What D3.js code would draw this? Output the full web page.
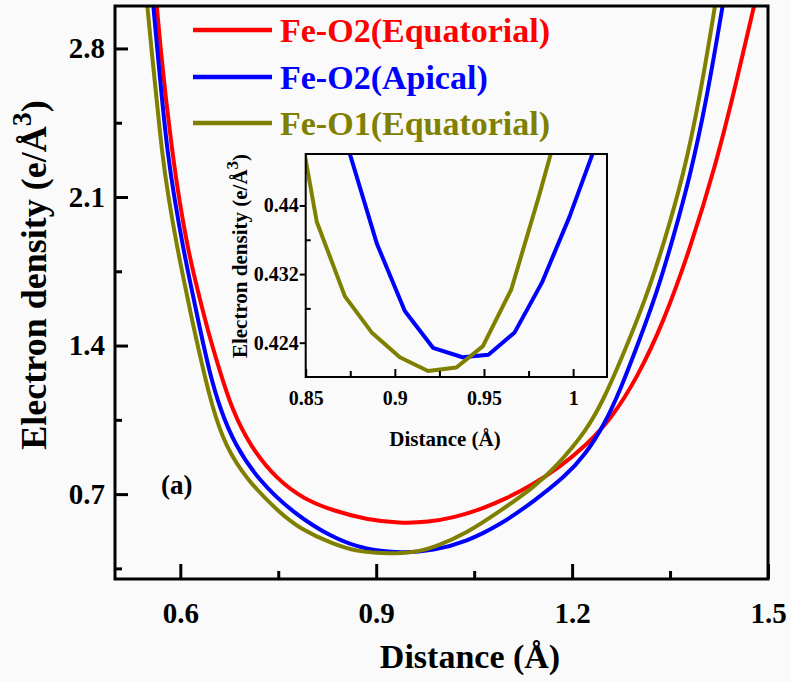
<!DOCTYPE html>
<html><head><meta charset="utf-8">
<script src="https://cdn.jsdelivr.net/npm/d3@7"></script>
<style>
html,body{margin:0;padding:0;background:#fafafa;}
svg{display:block;}
text{font-family:"Liberation Serif","Times New Roman",serif;font-weight:bold;fill:#000;}
</style></head><body>
<svg id="chart" width="791" height="682"></svg>
<script>
// ---------- data ----------
const seriesNames = ["Fe-O2(Equatorial)", "Fe-O2(Apical)", "Fe-O1(Equatorial)"];
const seriesColors = ["#ff0000", "#0000ff", "#808000"];

// main panel: distance (Å) and electron density (e/Å^3)
const redX = [0.564,0.570,0.578,0.587,0.598,0.612,0.625,0.643,0.660,0.679,0.707,0.7476,0.790,0.834,0.885,0.936,0.980,1.020,1.060,1.100,1.140,1.180,1.220,1.260,1.300,1.340,1.380,1.420,1.450,1.4786];
const redY = [3.00,2.79,2.56,2.33,2.09,1.85,1.68,1.46,1.285,1.10,0.925,0.77,0.675,0.622,0.580,0.5626,0.568,0.590,0.628,0.680,0.745,0.825,0.925,1.055,1.25,1.51,1.85,2.25,2.62,3.00];

const blueX = [0.5587,0.5648,0.572,0.580,0.591,0.605,0.615,0.630,0.645,0.661,0.684,0.7195,0.773,0.834,0.885,0.938,0.9875,1.0386,1.0896,1.1406,1.190,1.220,1.250,1.275,1.300,1.330,1.355,1.380,1.405,1.4305];
const blueY = [3.00,2.795,2.56,2.32,2.09,1.85,1.70,1.48,1.27,1.10,0.93,0.767,0.61,0.492,0.437,0.4223,0.433,0.476,0.555,0.664,0.785,0.885,1.03,1.20,1.40,1.65,1.91,2.19,2.54,3.00];

const oliveX = [0.5495,0.556,0.5638,0.5715,0.582,0.596,0.606,0.620,0.634,0.649,0.6685,0.7016,0.7527,0.7833,0.834,0.872,0.903,0.919,0.936,0.9653,0.9875,1.0386,1.0896,1.1406,1.176,1.2223,1.2478,1.2733,1.3142,1.3423,1.3703,1.3958,1.4188];
const oliveY = [3.00,2.79,2.56,2.32,2.09,1.85,1.70,1.49,1.30,1.11,0.93,0.767,0.61,0.537,0.463,0.4294,0.4223,0.4207,0.421,0.4302,0.447,0.5155,0.62,0.73,0.83,1.00,1.144,1.32,1.63,1.90,2.20,2.57,3.00];

// inset (zoom near the minimum)
const insetBlueX = [0.8745,0.890,0.9056,0.9214,0.938,0.9525,0.9672,0.9825,0.998,1.0135];
const insetBlueY = [0.4462,0.4355,0.4277,0.4234,0.4223,0.4226,0.4252,0.4310,0.4387,0.4475];
const insetOliveX = [0.8404,0.8562,0.872,0.887,0.9028,0.9186,0.9345,0.9494,0.9653,0.981,0.9968];
const insetOliveY = [0.4565,0.4381,0.4294,0.4252,0.4223,0.4207,0.4211,0.4236,0.4302,0.4412,0.4530];

// ticks
const xMajor = [0.6, 0.9, 1.2, 1.5];
const xMinor = [0.75, 1.05, 1.35];
const yMajor = [0.7, 1.4, 2.1, 2.8];
const yMinor = [0.35, 1.05, 1.75, 2.45];
const insetXMajor = [0.85, 0.9, 0.95, 1.0];
const insetXMinor = [0.875, 0.925, 0.975];
const insetYMajor = [0.424, 0.432, 0.44];
const insetYMinor = [0.428, 0.436];
const insetXLabels = ["0.85", "0.9", "0.95", "1"];

// ---------- drawing ----------
const svg = d3.select("#chart");
const L = 115, R = 768, T = 6, B = 579;
const x = d3.scaleLinear().domain([0.5, 1.5]).range([L, R]);
const y = d3.scaleLinear().domain([0.3, 3.0]).range([B, T]);

svg.append("defs").append("clipPath").attr("id", "clipMain")
  .append("rect").attr("x", L).attr("y", T).attr("width", R - L).attr("height", B - T);

const toPts = (xs, ys) => xs.map((v, i) => [v, ys[i]]);
const mainSeries = [toPts(redX, redY), toPts(blueX, blueY), toPts(oliveX, oliveY)];

const line = d3.line().x(d => x(d[0])).y(d => y(d[1])).curve(d3.curveBasis);
const gCurves = svg.append("g").attr("clip-path", "url(#clipMain)");
mainSeries.forEach((s, i) => {
  gCurves.append("path").datum(s).attr("d", line)
    .attr("fill", "none").attr("stroke", seriesColors[i]).attr("stroke-width", 4);
});

// axes
function styleAxis(g) {
  g.select(".domain").remove();
  g.selectAll(".tick line").attr("stroke", "#000").attr("stroke-width", 3);
  g.selectAll("text").style("font-family", '"Liberation Serif", serif').style("font-weight", "bold").attr("fill", "#000");
}
svg.append("g").attr("transform", `translate(0,${B})`)
  .call(d3.axisBottom(x).tickValues(xMajor).tickSize(-15).tickPadding(23).tickFormat(d3.format(".1f")))
  .call(styleAxis).selectAll("text").attr("font-size", 29);
svg.append("g").attr("transform", `translate(0,${B})`)
  .call(d3.axisBottom(x).tickValues(xMinor).tickSize(-8).tickFormat(""))
  .call(styleAxis);
svg.append("g").attr("transform", `translate(${L},0)`)
  .call(d3.axisLeft(y).tickValues(yMajor).tickSize(-13).tickPadding(10).tickFormat(d3.format(".1f")))
  .call(styleAxis).selectAll("text").attr("font-size", 29);
svg.append("g").attr("transform", `translate(${L},0)`)
  .call(d3.axisLeft(y).tickValues(yMinor).tickSize(-7).tickFormat(""))
  .call(styleAxis);

svg.append("rect").attr("x", L).attr("y", T).attr("width", R - L).attr("height", B - T)
  .attr("fill", "none").attr("stroke", "#000").attr("stroke-width", 3);

// axis titles
svg.append("text").attr("x", 470).attr("y", 668).attr("text-anchor", "middle")
  .attr("font-size", 34).text("Distance (Å)");
const yt = svg.append("text").attr("transform", "translate(46,275) rotate(-90)")
  .attr("text-anchor", "middle").attr("font-size", 36);
yt.append("tspan").text("Electron density (e/Å");
yt.append("tspan").attr("baseline-shift", "super").attr("font-size", 28).text("3");
yt.append("tspan").text(")");

svg.append("text").attr("x", 161).attr("y", 494).attr("font-size", 27).text("(a)");

// legend
const legY = [30, 77, 123];
seriesNames.forEach((name, i) => {
  svg.append("line").attr("x1", 193).attr("x2", 272).attr("y1", legY[i]).attr("y2", legY[i])
    .attr("stroke", seriesColors[i]).attr("stroke-width", 4.5);
  svg.append("text").attr("x", 280).attr("y", legY[i] + 12).attr("font-size", 34)
    .style("fill", seriesColors[i]).text(name);
});

// ---------- inset ----------
const iL = 305.7, iR = 607, iT = 154, iB = 377;
const ix = d3.scaleLinear().domain([0.85, 1.019]).range([iL, iR]);
const iy = d3.scaleLinear().domain([0.42, 0.446]).range([iB, iT]);

svg.append("rect").attr("x", iL).attr("y", iT).attr("width", iR - iL).attr("height", iB - iT)
  .attr("fill", "#fafafa");
svg.select("defs").append("clipPath").attr("id", "clipInset")
  .append("rect").attr("x", iL).attr("y", iT).attr("width", iR - iL).attr("height", iB - iT);

const iline = d3.line().x(d => ix(d[0])).y(d => iy(d[1]));
const gInset = svg.append("g").attr("clip-path", "url(#clipInset)");
[[toPts(insetBlueX, insetBlueY), seriesColors[1]], [toPts(insetOliveX, insetOliveY), seriesColors[2]]]
  .forEach(([s, c]) => {
    gInset.append("path").datum(s).attr("d", iline)
      .attr("fill", "none").attr("stroke", c).attr("stroke-width", 4).attr("stroke-linejoin", "round");
  });

function styleInset(g) {
  g.select(".domain").remove();
  g.selectAll(".tick line").attr("stroke", "#000").attr("stroke-width", 2);
  g.selectAll("text").style("font-family", '"Liberation Serif", serif').style("font-weight", "bold").attr("fill", "#000");
}
svg.append("g").attr("transform", `translate(0,${iB})`)
  .call(d3.axisBottom(ix).tickValues(insetXMajor).tickSize(-8).tickPadding(14)
    .tickFormat((d, i) => insetXLabels[i]))
  .call(styleInset).selectAll("text").attr("font-size", 20);
svg.append("g").attr("transform", `translate(0,${iB})`)
  .call(d3.axisBottom(ix).tickValues(insetXMinor).tickSize(-6).tickFormat(""))
  .call(styleInset);
svg.append("g").attr("transform", `translate(${iL},0)`)
  .call(d3.axisLeft(iy).tickValues(insetYMajor).tickSize(6).tickPadding(1).tickFormat(d => String(+d.toFixed(3))))
  .call(styleInset).selectAll("text").attr("font-size", 20);
svg.append("g").attr("transform", `translate(${iL},0)`)
  .call(d3.axisLeft(iy).tickValues(insetYMinor).tickSize(-5).tickFormat(""))
  .call(styleInset);

svg.append("rect").attr("x", iL).attr("y", iT).attr("width", iR - iL).attr("height", iB - iT)
  .attr("fill", "none").attr("stroke", "#000").attr("stroke-width", 2);

svg.append("text").attr("x", 445).attr("y", 446).attr("text-anchor", "middle")
  .attr("font-size", 21).text("Distance (Å)");
const iyt = svg.append("text").attr("transform", "translate(247,256) rotate(-90)")
  .attr("text-anchor", "middle").attr("font-size", 21);
iyt.append("tspan").text("Electron density (e/Å");
iyt.append("tspan").attr("baseline-shift", "super").attr("font-size", 17).text("3");
iyt.append("tspan").text(")");
</script>
</body></html>
